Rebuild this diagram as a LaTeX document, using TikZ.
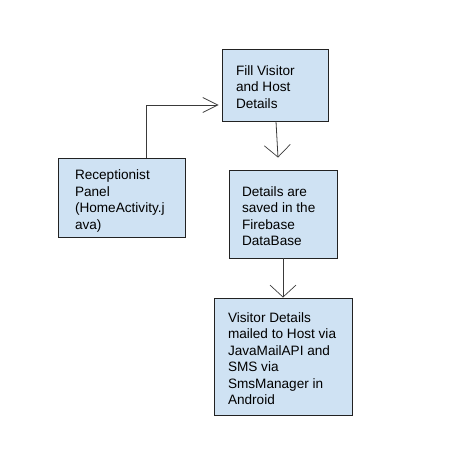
\documentclass[tikz,border=0pt]{standalone}
\usepackage{fontspec}
\setmainfont{Liberation Sans}
\usetikzlibrary{arrows.meta,calc}
\definecolor{boxfill}{HTML}{CFE2F3}
\definecolor{boxline}{HTML}{222222}
\definecolor{conn}{HTML}{3A3A3A}
\newcommand\boxlines[2]{\raisebox{0pt}[\dimexpr\height+7pt\relax][\depth]{\makebox[#1][l]{\begin{tabular}{@{}l@{}}#2\end{tabular}}}}
\begin{document}
\begin{tikzpicture}[x=1pt,y=-1pt,
  box/.style={draw=boxline, line width=0.9pt, fill=boxfill, rectangle,
    font=\fontsize{13.6}{16.5}\selectfont, inner ysep=0pt},
  conn/.style={draw=conn, line width=0.8pt},
  vhead/.style={-{Straight Barb[length=12pt,width=26pt,line width=0.7pt]}},
  hhead/.style={-{Straight Barb[length=15pt,width=15pt,line width=0.7pt]}}]
\useasboundingbox (0,0) rectangle (459,455);
\node[box, minimum width=106pt, minimum height=72pt, inner xsep=14pt] (fill) at (275,85)
  {\boxlines{78pt}{Fill Visitor\\and Host\\Details}};
\node[box, minimum width=127pt, minimum height=79pt, inner xsep=17pt] (recep) at (121.5,197.5)
  {\boxlines{93pt}{Receptionist\\Panel\\(HomeActivity.j\\ava)}};
\node[box, minimum width=108pt, minimum height=88pt, inner xsep=13pt] (saved) at (283,214)
  {\boxlines{82pt}{Details are\\saved in the\\Firebase\\DataBase}};
\node[box, minimum width=138pt, minimum height=117pt, inner xsep=14pt] (mail) at (283,356.5)
  {\boxlines{110pt}{Visitor Details\\mailed to Host via\\JavaMailAPI and\\SMS via\\SmsManager in\\Android}};
\coordinate (c1s) at ($(recep.north)+(24.5,0)$);
\coordinate (c1e) at ($(fill.west)+(-3,20)$);
\draw[conn, hhead] (c1s) |- (c1e);
\coordinate (c2s) at ($(fill.south)+(1,0)$);
\coordinate (c2e) at ($(saved.north)+(-5,-12)$);
\draw[conn, vhead] (c2s) -- (c2e);
\draw[conn, vhead] (saved.south) -- (mail.north);
\end{tikzpicture}
\end{document}
